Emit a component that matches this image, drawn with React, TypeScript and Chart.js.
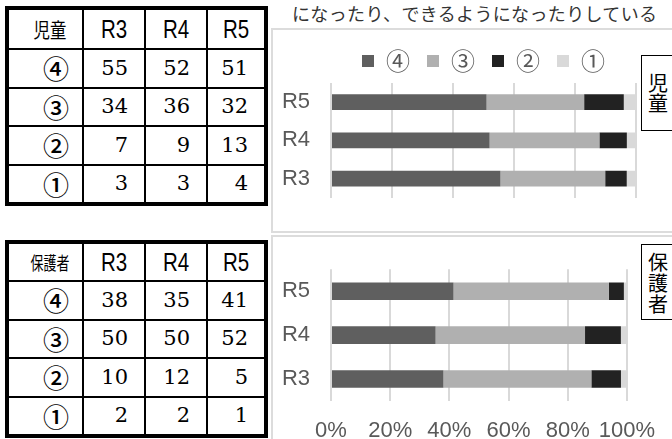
import React, { useEffect, useRef } from "react";
import { Chart, registerables } from "chart.js";

Chart.register(...registerables);

// ---- data ----
const years = ["R3", "R4", "R5"];
const levels = ["④", "③", "②", "①"];
const levelColors = ["#5f5f5f", "#b0b0b0", "#222222", "#d9d9d9"];

const child4 = [55, 52, 51];
const child3 = [34, 36, 32];
const child2 = [7, 9, 13];
const child1 = [3, 3, 4];

const parent4 = [38, 35, 41];
const parent3 = [50, 50, 52];
const parent2 = [10, 12, 5];
const parent1 = [2, 2, 1];

const childLabel = "児童";
const parentLabel = "保護者";
const titleText = "になったり、できるようになったりしている";
const axisMax = 100;
const axisStep = 20;

const childSeries = [child4, child3, child2, child1];
const parentSeries = [parent4, parent3, parent2, parent1];

const SANS = "'Liberation Sans', Arial, sans-serif";
const CJK = "'Noto Sans CJK JP', 'Noto Sans', sans-serif";
const SERIF = "'DejaVu Serif', 'Liberation Serif', serif";

function toPercent(series: number[][]): number[][] {
  const totals = years.map((_, i) => series.reduce((s, arr) => s + arr[i], 0));
  return series.map((arr) => arr.map((v, i) => (v / totals[i]) * 100));
}

type PanelProps = {
  series: number[][];
  left: number;
  top: number;
  width: number;
  height: number;
  legend: boolean;
  xLabels: boolean;
  padTop: number;
  padRight: number;
  xHeight: number;
  barPct: number;
};

function BarPanel(p: PanelProps) {
  const ref = useRef<HTMLCanvasElement | null>(null);
  useEffect(() => {
    if (!ref.current) return;
    const pct = toPercent(p.series);
    const chart = new Chart(ref.current, {
      type: "bar",
      data: {
        labels: years,
        datasets: levels.map((lv, i) => ({
          label: lv,
          data: pct[i],
          backgroundColor: levelColors[i],
          borderWidth: 0,
          categoryPercentage: 1,
          barPercentage: p.barPct,
        })),
      },
      options: {
        indexAxis: "y",
        responsive: false,
        animation: false,
        events: [],
        layout: { padding: { top: p.padTop, right: p.padRight, left: 0, bottom: 0 } },
        plugins: {
          tooltip: { enabled: false },
          legend: {
            display: p.legend,
            position: "top",
            fullSize: false,
            align: "center",
            labels: {
              boxWidth: 12,
              boxHeight: 12,
              padding: 17,
              color: "#595959",
              font: { family: CJK, size: 24 },
            },
          },
        },
        scales: {
          x: {
            stacked: true,
            min: 0,
            max: axisMax,
            ticks: {
              display: p.xLabels,
              stepSize: axisStep,
              autoSkip: false,
              maxRotation: 0,
              padding: 17,
              color: "#595959",
              font: { family: SANS, size: 22 },
              callback: (v: any) => v + "%",
            },
            grid: { color: "#d9d9d9", lineWidth: 2, drawTicks: false },
            border: { display: false },
            afterFit: (axis: any) => {
              axis.height = p.xHeight;
            },
          },
          y: {
            stacked: true,
            reverse: true,
            ticks: {
              padding: 21,
              color: "#595959",
              font: { family: SANS, size: 22 },
            },
            grid: { display: false, drawTicks: false },
            border: { display: false },
            afterFit: (axis: any) => {
              axis.width = 59;
            },
          },
        },
      },
    } as any);
    return () => chart.destroy();
  }, []);
  return (
    <canvas
      ref={ref}
      width={p.width}
      height={p.height}
      style={{ position: "absolute", left: p.left, top: p.top, width: p.width, height: p.height }}
    />
  );
}

type TableProps = {
  top: number;
  header: string;
  headerSize: number;
  headerScale: number;
  series: number[][];
  rows: string;
};

function DataTable(t: TableProps) {
  const cell: React.CSSProperties = {
    background: "#fff",
    display: "flex",
    alignItems: "center",
  };
  const cells: React.ReactNode[] = [];
  cells.push(
    <div key="h" style={{ ...cell, justifyContent: "center", paddingLeft: 8 }}>
      <span
        style={{
          display: "inline-block",
          fontFamily: CJK,
          fontSize: t.headerSize,
          transform: `scaleX(${t.headerScale})`,
          color: "#000",
        }}
      >
        {t.header}
      </span>
    </div>
  );
  years.forEach((y) =>
    cells.push(
      <div key={"y" + y} style={{ ...cell, justifyContent: "center" }}>
        <span
          style={{
            display: "inline-block",
            fontFamily: SANS,
            fontSize: 25,
            transform: "scaleX(0.82)",
            color: "#000",
          }}
        >
          {y}
        </span>
      </div>
    )
  );
  levels.forEach((lv, r) => {
    cells.push(
      <div key={"l" + r} style={{ ...cell, justifyContent: "flex-end", paddingRight: 13 }}>
        <span style={{ fontFamily: CJK, fontSize: 26, fontWeight: 500, color: "#000", lineHeight: 1 }}>{lv}</span>
      </div>
    );
    years.forEach((_, c) =>
      cells.push(
        <div key={"v" + r + c} style={{ ...cell, justifyContent: "flex-end", paddingRight: 16 }}>
          <span style={{ fontFamily: SERIF, fontSize: 21, color: "#000", lineHeight: 1 }}>
            {t.series[r][c]}
          </span>
        </div>
      )
    );
  });
  return (
    <div
      style={{
        position: "absolute",
        left: 5,
        top: t.top,
        padding: 4,
        background: "#000",
        display: "grid",
        gridTemplateColumns: "73px 60px 60px 56px",
        gridTemplateRows: t.rows,
        gap: 2,
      }}
    >
      {cells}
    </div>
  );
}

function SideBox({ text, top, height, lineH }: { text: string; top: number; height: number; lineH: number }) {
  return (
    <div
      style={{
        position: "absolute",
        left: 641,
        top,
        width: 40,
        height,
        boxSizing: "border-box",
        border: "1px solid #000",
        background: "#fff",
        display: "flex",
        alignItems: "center",
        paddingLeft: 6,
      }}
    >
      <div style={{ fontFamily: CJK, fontSize: 20, lineHeight: lineH + "px", width: 20, color: "#000" }}>
        {text.split("").map((ch, i) => (
          <div key={i}>{ch}</div>
        ))}
      </div>
    </div>
  );
}

export default function App() {
  return (
    <div
      style={{
        position: "fixed",
        left: 0,
        top: 0,
        width: 672,
        height: 439,
        background: "#fff",
        overflow: "hidden",
      }}
    >
      <div
        style={{
          position: "absolute",
          left: 292,
          top: 4,
          fontFamily: CJK,
          fontSize: 18,
          letterSpacing: "0.35px",
          lineHeight: "18px",
          color: "#333",
          whiteSpace: "nowrap",
        }}
      >
        {titleText}
      </div>
      {/* panel frames */}
      <div
        style={{
          position: "absolute",
          left: 271,
          top: 28,
          width: 420,
          height: 205,
          boxSizing: "border-box",
          borderTop: "2px solid #dcdcdc",
          borderLeft: "2px solid #dcdcdc",
          borderBottom: "2px solid #dcdcdc",
        }}
      />
      <div
        style={{
          position: "absolute",
          left: 271,
          top: 235,
          width: 420,
          height: 220,
          boxSizing: "border-box",
          borderTop: "2px solid #dcdcdc",
          borderLeft: "2px solid #dcdcdc",
        }}
      />
      <DataTable
        top={6}
        header={childLabel}
        headerSize={20}
        headerScale={0.82}
        series={childSeries}
        rows="38px 36.5px 36.5px 36.5px 36.5px"
      />
      <DataTable
        top={240}
        header={parentLabel}
        headerSize={18}
        headerScale={0.72}
        series={parentSeries}
        rows="36px 36.5px 36.5px 36.5px 36.5px"
      />
      <BarPanel
        series={childSeries}
        left={272}
        top={26}
        width={400}
        height={206}
        legend={true}
        xLabels={false}
        padTop={6}
        padRight={36}
        xHeight={10}
        barPct={0.41}
      />
      <BarPanel
        series={parentSeries}
        left={272}
        top={235}
        width={400}
        height={204}
        legend={false}
        xLabels={true}
        padTop={10.5}
        padRight={35}
        xHeight={38}
        barPct={0.4}
      />
      <SideBox text={childLabel} top={55} height={76} lineH={20} />
      <SideBox text={parentLabel} top={244} height={76} lineH={21} />
    </div>
  );
}
